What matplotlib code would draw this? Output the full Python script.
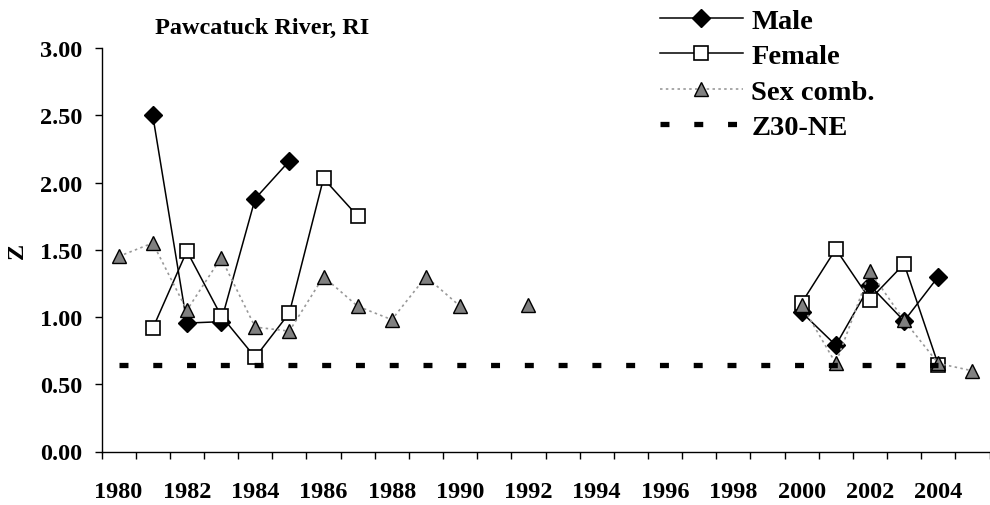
import numpy as np
import matplotlib
matplotlib.use("Agg")
import matplotlib.pyplot as plt
from matplotlib.ticker import FixedLocator, FormatStrFormatter

nan = np.nan

years = list(range(1980, 2006))
male = [nan, 2.50, 0.955, 0.965, 1.88, 2.16] + [nan] * 14 + [1.035, 0.79, 1.235, 0.97, 1.30, nan]
female = [nan, 0.915, 1.49, 1.01, 0.70, 1.03, 2.03, 1.75] + [nan] * 12 + [1.105, 1.505, 1.13, 1.395, 0.645, nan]
sex_comb = [1.45, 1.55, 1.05, 1.44, 0.925, 0.895, 1.30, 1.08, 0.98, 1.30, 1.08, nan, 1.09] + [nan] * 7 + [1.09, 0.655, 1.34, 0.975, 0.655, 0.60]
z30_ne = [0.64] * 25 + [nan]

title = "Pawcatuck River, RI"
y_ticks = [0.0, 0.5, 1.0, 1.5, 2.0, 2.5, 3.0]

plt.rcParams["font.family"] = ["Liberation Serif", "DejaVu Serif"]
plt.rcParams["font.weight"] = "bold"

fig = plt.figure(figsize=(9.9, 5.06), dpi=100)
ax = fig.add_axes([101.5 / 990, 1 - 452.5 / 506, 888 / 990, 403.5 / 506])

x = np.arange(len(years))

ax.plot(x, male, color="black", lw=1.1, marker="D", ms=9, mfc="black", mec="black", label="Male", zorder=3)
ax.plot(x, female, color="black", lw=1.1, marker="s", ms=10, mfc="white", mec="black", mew=1.2, label="Female", zorder=4)
ax.plot(x, sex_comb, color="#999999", lw=1.2, ls=(0, (1.5, 2.0)), marker="^", ms=9.5,
        mfc="#808080", mec="black", mew=1.0, label="Sex comb.", zorder=5)
ax.plot(x, z30_ne, color="black", lw=3.8, dashes=(1.7, 4.7), dash_capstyle="butt",
        label="Z30-NE", zorder=6)

ax.set_xlim(-0.5, len(years) - 0.5)
ax.set_ylim(0, 3)
ax.set_yticks(y_ticks)
ax.yaxis.set_major_formatter(FormatStrFormatter("%.2f"))

label_pos = x[::2]
ax.set_xticks(label_pos)
ax.set_xticklabels([str(years[i]) for i in label_pos])
ax.xaxis.set_minor_locator(FixedLocator(np.arange(-0.5, len(years), 1.0)))
ax.tick_params(axis="x", which="major", length=0, pad=21, labelsize=17.5)
ax.tick_params(axis="x", which="minor", length=5, width=1, direction="out")
ax.tick_params(axis="y", length=5, width=1, direction="out", pad=9, labelsize=17.5)

for side in ["top", "right"]:
    ax.spines[side].set_visible(False)
for side in ["left", "bottom"]:
    ax.spines[side].set_linewidth(1)

ax.set_ylabel("Z", fontsize=17.5, fontweight="bold")
ax.yaxis.set_label_coords(-0.083, 0.5)

fig.text(262 / 990, 1 - 34 / 506, title, ha="center", va="baseline", fontsize=17.5, fontweight="bold")

fig.legend(loc="upper left", bbox_to_anchor=(643 / 990, 1.0 + 8 / 506), frameon=False, fontsize=20.5,
           handlelength=2.9, handletextpad=0.3, labelspacing=0.33, borderpad=0.1, numpoints=1)

fig.savefig("out.png", dpi=100)
